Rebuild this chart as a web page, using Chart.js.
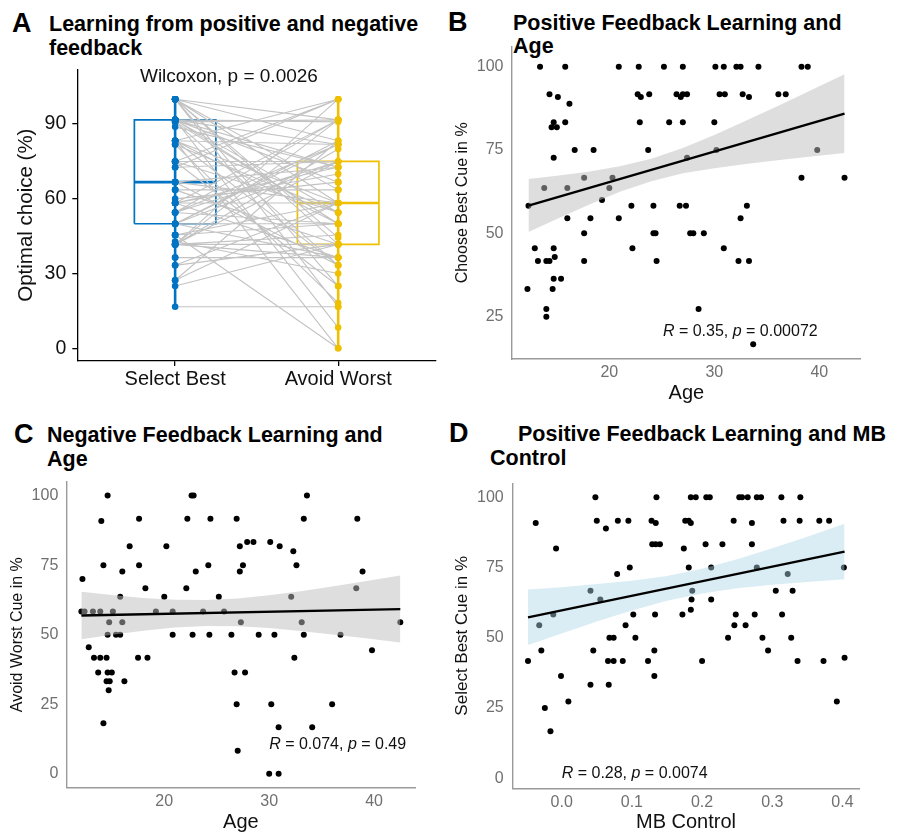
<!DOCTYPE html>
<html><head><meta charset="utf-8">
<script src="https://cdn.jsdelivr.net/npm/chart.js@4.4.1/dist/chart.umd.min.js"></script>
<style>
html,body{margin:0;padding:0;background:#fff;}
body{width:898px;height:834px;position:relative;overflow:hidden;font-family:'Liberation Sans',Arial,Helvetica,sans-serif;}
canvas{position:absolute;}
.lbl{position:absolute;font-weight:bold;color:#000;white-space:nowrap;}
.letter{font-size:27px;line-height:30px;}
.title{font-size:21.5px;line-height:24px;}
</style></head><body>
<div class="lbl letter" style="left:12px;top:8px">A</div>
<div class="lbl title" style="left:49px;top:12px">Learning from positive and negative<br>feedback</div>
<div class="lbl letter" style="left:448px;top:7px">B</div>
<div class="lbl title" style="left:513px;top:12px;line-height:23px">Positive Feedback Learning and<br>Age</div>
<div class="lbl letter" style="left:14px;top:419px">C</div>
<div class="lbl title" style="left:47px;top:423px">Negative Feedback Learning and<br>Age</div>
<div class="lbl letter" style="left:449px;top:418px">D</div>
<div class="lbl title" style="left:518px;top:422px">Positive Feedback Learning and MB</div>
<div class="lbl title" style="left:490px;top:446px">Control</div>

<canvas id="cA" width="450" height="370" style="left:0;top:40px"></canvas>
<canvas id="cB" width="448" height="390" style="left:450px;top:20px"></canvas>
<canvas id="cC" width="450" height="404" style="left:0;top:430px"></canvas>
<canvas id="cD" width="448" height="404" style="left:450px;top:430px"></canvas>

<script>
// ---------- DATA ----------
// Panel B: age vs. % choosing best cue
const ageB = [13.4,15.8,20.9,22.8,25.2,27.0,30.1,30.9,32.1,32.5,34.2,38.3,38.9,
  14.3,15.1,22.7,23.0,23.8,26.4,26.8,27.0,27.4,30.5,31.0,32.7,33.3,36.1,36.8,16.2,
  15.8,22.9,25.7,27.0,30.0,14.7,14.5,15.0,
  16.7,18.5,23.7,27.4,30.2,39.8,14.7,
  17.6,20.3,38.3,42.4,13.8,16.0,20.0,19.3,
  12.3,22.1,24.2,26.7,27.3,33.1,
  16.0,18.2,20.9,32.5,
  17.6,24.2,24.4,27.7,28.0,29.0,
  12.9,14.7,22.2,30.9,
  13.2,14.0,14.3,14.8,17.6,24.5,32.3,33.3,
  14.7,15.4,12.2,14.6,14.0,28.5,14.0,33.7];
const bestB = [100,100,100,100,100,100,100,100,100,100,100,100,100,
  91.7,90.9,91.7,90.9,91.7,91.7,90.9,91.7,91.7,91.7,91.7,91.7,90.9,91.7,91.7,88.9,
  83.3,83.3,83.3,83.3,83.3,83.3,81.8,81.8,
  75,75,75,72.7,75,75,72.7,
  66.7,66.7,66.7,66.7,63.6,63.6,63.6,60,
  58.3,58.3,58.3,58.3,58.3,58.3,
  54.5,54.5,54.5,54.5,
  50,50,50,50,50,50,
  45.5,45.5,45.5,45.5,
  41.7,41.7,41.7,42.9,41.7,41.7,41.7,41.7,
  36.4,36.4,33.3,33.3,27.3,27.3,25,16.7];

// Panel C: age vs. % avoiding worst cue
const ageC = [14.6,22.6,22.8,33.6,
  14.0,17.6,22.2,24.4,26.9,33.3,38.4,
  27.9,28.5,30.1,16.7,20.2,27.2,31.0,32.3,
  14.2,17.6,24.2,27.5,32.6,
  16.0,23.0,27.2,38.9,12.2,
  18.2,22.1,38.3,
  15.8,20.0,25.2,32.1,
  12.1,12.4,13.2,13.9,15.1,19.2,20.8,23.7,25.7,
  14.75,16.0,27.3,33.1,42.5,
  14.6,15.4,15.8,20.8,22.7,24.3,26.4,29.0,30.5,33.3,36.8,
  12.8,39.8,
  13.3,13.9,14.5,17.5,18.4,32.4,
  13.7,14.6,15.0,26.7,27.7,
  14.5,14.8,16.2,14.7,
  26.9,30.2,36.0,14.2,30.9,34.1,27.0,30.0,30.9];
const worstC = [100,100,100,100,
  90.9,91.7,91.7,91.7,91.7,91.7,91.7,
  83.3,83.3,83.3,81.8,81.8,81.8,81.8,80,
  75,75,75,75,75,
  72.7,72.7,72.7,72.7,70,
  66.7,66.7,66.7,
  63.6,63.6,63.6,63.6,
  58.3,58.3,58.3,58.3,58.3,58.3,58.3,58.3,58.3,
  54.5,54.5,54.5,54.5,54.5,
  50,50,50,50,50,50,50,50,50,50,50,
  45.5,44.4,
  41.7,41.7,41.7,41.7,41.7,41.7,
  36.4,36.4,36.4,36.4,36.4,
  33.3,33.3,33.3,30,
  25,25,25,18.2,16.7,16.7,8.3,0,0];

// Panel D: MB control vs. % selecting best cue
const mbD = [0.048,0.135,0.184,0.191,0.206,0.211,0.253,0.257,0.265,0.278,0.284,0.313,0.340,
  -0.037,0.050,0.080,0.095,0.128,0.134,0.176,0.181,0.184,0.245,0.271,0.316,0.339,0.367,0.381,0.063,
  0.129,0.134,0.140,0.205,0.229,0.271,-0.008,0.174,
  0.097,0.181,0.213,0.278,0.402,0.079,0.322,
  0.041,0.186,0.305,0.329,0.055,0.185,0.213,0.184,
  -0.012,0.102,0.133,0.172,0.248,0.275,0.314,
  -0.032,0.091,0.246,0.262,
  0.068,0.074,0.105,0.237,0.286,0.327,
  -0.029,0.045,0.132,0.294,
  -0.048,0.066,0.074,0.087,0.123,0.200,0.336,0.373,0.403,
  -0.001,0.132,0.041,0.067,0.0095,0.392,-0.024,-0.016];
const bestD = [100,100,100,100,100,100,100,100,100,100,100,100,100,
  90.9,91.7,91.7,91.7,91.7,90.9,91.7,91.7,90.9,91.7,90.9,91.7,91.7,91.7,91.7,88.9,
  83.3,83.3,83.3,83.3,83.3,83.3,81.8,81.8,
  75,75,75,75,75,72.7,72.7,
  66.7,66.7,66.7,66.7,63.6,63.6,63.6,60,
  58.3,58.3,58.3,58.3,58.3,58.3,58.3,
  54.5,54.5,54.5,54.5,
  50,50,50,50,50,50,
  45.5,45.5,45.5,45.5,
  41.7,41.7,41.7,41.7,41.7,41.7,41.7,41.7,42.9,
  36.4,36.4,33.3,33.3,27.3,27.3,25,16.7];

// Panel A box statistics [min, Q1, median, Q3, max]
const catPos = [1, 2];
const catLabels = ['Select Best', 'Avoid Worst'];
const boxSelectBest = [16.7, 50, 66.7, 91.7, 100];
const boxAvoidWorst = [0, 41.7, 58.3, 75, 100];

// Regression lines and confidence bands
const regBx = [12.3, 42.4], regBy = [58.3, 85.9];
const bandBx = [12.3,15,18,21,24,27,30,33,36,39,42.4];
const bandBlo = [50.4,54.3,58.5,62.5,65.6,68.0,69.5,70.8,71.9,73.0,74.1];
const bandBhi = [66.3,67.3,68.5,70.1,72.4,75.6,79.5,83.8,88.1,92.6,97.7];

const regCx = [12.1, 42.5], regCy = [56.9, 59.2];
const bandCx = [12.1,15,18,21,24,27,30,33,36,39,42.5];
const bandClo = [48.4,50.0,51.4,52.6,53.1,53.0,52.4,51.3,50.1,48.8,47.2];
const bandChi = [65.4,64.3,63.2,62.6,62.5,63.0,64.2,65.6,67.3,69.1,71.3];

const regDx = [-0.048, 0.403], regDy = [57.3, 80.7];
const bandDx = [-0.048,0,0.05,0.1,0.15,0.2,0.25,0.3,0.35,0.403];
const bandDlo = [47.4,51.5,55.8,59.7,63.2,65.8,67.6,68.9,69.9,70.8];
const bandDhi = [67.2,68.0,69.1,70.3,72.0,74.6,78.0,81.9,86.0,90.6];

// Tick values
const tickAy = [0, 30, 60, 90];
const tickBx = [20, 30, 40], tickBy = [25, 50, 75, 100];
const tickCx = [20, 30, 40], tickCy = [0, 25, 50, 75, 100];
const tickDx = [0, 0.1, 0.2, 0.3, 0.4], tickDy = [0, 25, 50, 75, 100];

// ---------- RENDERING ----------
const FAM = "'Liberation Sans', Arial, Helvetica, sans-serif";
Chart.defaults.font.family = FAM;
Chart.defaults.color = '#000';
Chart.defaults.animation = false;

function zip(xs, ys) { return xs.map((x, i) => ({x: x, y: ys[i]})); }
function setTicks(arr) { return s => { s.ticks = arr.map(v => ({value: v})); }; }

function annot(items) {
  return {
    id: 'annot',
    afterDatasetsDraw(chart) {
      const ctx = chart.ctx, xs = chart.scales.x, ys = chart.scales.y;
      items.forEach(it => {
        ctx.save();
        ctx.fillStyle = it.color || '#000';
        ctx.textBaseline = 'middle';
        ctx.textAlign = 'left';
        const fonts = it.parts.map(p => (p.italic ? 'italic ' : '') + it.size + 'px ' + FAM);
        const widths = it.parts.map((p, i) => { ctx.font = fonts[i]; return ctx.measureText(p.text).width; });
        const total = widths.reduce((a, b) => a + b, 0);
        let x = xs.getPixelForValue(it.x);
        const y = ys.getPixelForValue(it.y);
        if (it.align === 'center') x -= total / 2;
        it.parts.forEach((p, i) => { ctx.font = fonts[i]; ctx.fillText(p.text, x, y); x += widths[i]; });
        ctx.restore();
      });
    }
  };
}

function rText(r, p) {
  return [{text: 'R', italic: true}, {text: ' = ' + r + ', '}, {text: 'p', italic: true}, {text: ' = ' + p}];
}

// ----- Panel A -----
(function () {
  const BLUE = '#0073C2', YEL = '#EFC000';
  const iB = ageB.map((a, i) => i).sort((i, j) => ageB[i] - ageB[j]);
  const iC = ageC.map((a, i) => i).sort((i, j) => ageC[i] - ageC[j]);
  const pairs = [];
  const n = Math.min(iB.length, iC.length);
  for (let k = 0; k < n; k++) {
    pairs.push({x: catPos[0], y: bestB[iB[k]]}, {x: catPos[1], y: worstC[iC[k]]}, {x: 1.5, y: null});
  }
  const hw = 0.25;
  function boxRect(c, s) {
    return [{x: c - hw, y: s[1]}, {x: c + hw, y: s[1]}, {x: c + hw, y: s[3]}, {x: c - hw, y: s[3]}, {x: c - hw, y: s[1]}];
  }
  function med(c, s) { return [{x: c - hw, y: s[2]}, {x: c + hw, y: s[2]}]; }
  function whisk(c, s) { return [{x: c, y: s[0]}, {x: c, y: s[4]}]; }
  const lineDs = (data, color, w, order) => ({data, borderColor: color, borderWidth: w, pointRadius: 0, showLine: true, fill: false, order});
  new Chart(document.getElementById('cA'), {
    type: 'line',
    data: {datasets: [
      lineDs(boxRect(catPos[0], boxSelectBest), BLUE, 1.7, 10),
      lineDs(med(catPos[0], boxSelectBest), BLUE, 2.6, 10),
      lineDs(boxRect(catPos[1], boxAvoidWorst), YEL, 1.7, 10),
      lineDs(med(catPos[1], boxAvoidWorst), YEL, 2.6, 10),
      {data: pairs, borderColor: '#c3c3c3', borderWidth: 1.1, pointRadius: 0, showLine: true, spanGaps: false, fill: false, order: 8},
      lineDs(whisk(catPos[0], boxSelectBest), BLUE, 2.6, 6),
      lineDs(whisk(catPos[1], boxAvoidWorst), YEL, 2.6, 6),
      {data: bestB.map(v => ({x: catPos[0], y: v})), showLine: false, pointRadius: 3.3, pointBackgroundColor: BLUE, pointBorderWidth: 0, order: 4},
      {data: worstC.map(v => ({x: catPos[1], y: v})), showLine: false, pointRadius: 3.3, pointBackgroundColor: YEL, pointBorderWidth: 0, order: 4}
    ]},
    options: {
      responsive: false, animation: false, events: [],
      layout: {padding: {top: 29.3, right: 14, bottom: 0, left: 0}},
      plugins: {legend: {display: false}, tooltip: {enabled: false}},
      scales: {
        x: {type: 'linear', min: 0.4, max: 2.6,
          afterBuildTicks: setTicks(catPos),
          afterFit: s => { s.height = 49; },
          grid: {display: true, drawOnChartArea: false, drawTicks: true, tickLength: 5, color: '#000', lineWidth: 1.3},
          border: {display: true, color: '#000', width: 1.3},
          ticks: {font: {size: 20}, color: '#111', padding: 1, maxRotation: 0, autoSkip: false,
            callback: (v, i) => catLabels[i]}},
        y: {type: 'linear', min: -5.1, max: 112,
          afterBuildTicks: setTicks(tickAy),
          afterFit: s => { s.width = 77.3; },
          grid: {display: true, drawOnChartArea: false, drawTicks: true, tickLength: 5, color: '#000', lineWidth: 1.3},
          border: {display: true, color: '#000', width: 1.3},
          ticks: {font: {size: 19.5}, color: '#111', padding: 6, autoSkip: false},
          title: {display: true, text: 'Optimal choice (%)', font: {size: 20.5}, color: '#111', padding: {top: 14.5, bottom: 0}}}
      }
    },
    plugins: [annot([{x: 1.33, y: 109.1, size: 19, align: 'center', color: '#111', parts: [{text: 'Wilcoxon, p = 0.0026'}]}])]
  });
})();

// ----- Scatter panels -----
function scatterPanel(id, o) {
  new Chart(document.getElementById(id), {
    type: 'line',
    data: {datasets: [
      {data: zip(o.px, o.py), showLine: false, pointRadius: 3.0, pointBackgroundColor: '#000', pointBorderWidth: 0, order: 4},
      {data: zip(o.bx, o.blo), borderColor: 'rgba(0,0,0,0)', borderWidth: 0.01, pointRadius: 0, showLine: true, fill: false, order: 3},
      {data: zip(o.bx, o.bhi), borderColor: 'rgba(0,0,0,0)', borderWidth: 0.01, pointRadius: 0, showLine: true, fill: 1, backgroundColor: o.band, order: 2},
      {data: zip(o.rx, o.ry), borderColor: '#000', borderWidth: 2.3, pointRadius: 0, showLine: true, fill: false, order: 1}
    ]},
    options: {
      responsive: false, animation: false, events: [],
      layout: {padding: o.pad},
      plugins: {legend: {display: false}, tooltip: {enabled: false}, filler: {propagate: false}},
      scales: {
        x: {type: 'linear', min: o.xmin, max: o.xmax,
          afterBuildTicks: setTicks(o.tx),
          afterFit: s => { s.height = o.xh; },
          grid: {display: false, drawTicks: false},
          border: {display: true, color: '#9a9a9a', width: 1.4},
          ticks: {font: {size: 16}, color: '#707070', padding: o.xtp, maxRotation: 0, autoSkip: false,
            callback: o.xfmt || (v => String(v))},
          title: {display: true, text: o.xtitle, font: {size: 20}, color: '#111', padding: {top: 0, bottom: o.xtb}}},
        y: {type: 'linear', min: o.ymin, max: o.ymax,
          afterBuildTicks: setTicks(o.ty),
          afterFit: s => { s.width = o.yw; },
          grid: {display: false, drawTicks: false},
          border: {display: true, color: '#9a9a9a', width: 1.4},
          ticks: {font: {size: 16}, color: '#707070', padding: o.ytp, autoSkip: false},
          title: {display: true, text: o.ytitle, font: {size: o.ytsize}, color: '#111', padding: {top: o.ytt, bottom: 0}}}
      }
    },
    plugins: [annot([{x: o.ax, y: o.ay, size: 16, align: 'left', color: '#111', parts: o.atext}])]
  });
}

const GRAYBAND = 'rgba(190,190,190,0.5)';
scatterPanel('cB', {px: ageB, py: bestB, bx: bandBx, blo: bandBlo, bhi: bandBhi, rx: regBx, ry: regBy, band: GRAYBAND,
  pad: {top: 26.7, right: 37.3, bottom: 0, left: 0}, xmin: 10.73, xmax: 43.94, ymin: 12.3, ymax: 106,
  tx: tickBx, ty: tickBy, xh: 51, yw: 62, xtp: 4.4, ytp: 8.5, xtb: 5, ytt: 3.1, ytsize: 16,
  xtitle: 'Age', ytitle: 'Choose Best Cue in %', ax: 25.1, ay: 20.4, atext: rText('0.35', '0.00072')});

scatterPanel('cC', {px: ageC, py: worstC, bx: bandCx, blo: bandClo, bhi: bandChi, rx: regCx, ry: regCy, band: GRAYBAND,
  pad: {top: 51.7, right: 35, bottom: 0, left: 0}, xmin: 10.7, xmax: 43.9, ymin: -5, ymax: 105,
  tx: tickCx, ty: tickCy, xh: 46.3, yw: 66.7, xtp: 4.4, ytp: 8.4, xtb: 0, ytt: 7.7, ytsize: 16,
  xtitle: 'Age', ytitle: 'Avoid Worst Cue in %', ax: 30.0, ay: 10.4, atext: rText('0.074', '0.49')});

scatterPanel('cD', {px: mbD, py: bestD, bx: bandDx, blo: bandDlo, bhi: bandDhi, rx: regDx, ry: regDy, band: 'rgba(173,216,230,0.45)',
  pad: {top: 53.3, right: 38.7, bottom: 0, left: 0}, xmin: -0.0698, xmax: 0.424, ymin: -3.6, ymax: 105,
  tx: tickDx, ty: tickDy, xh: 45.7, yw: 62.7, xtp: 5, ytp: 9, xtb: 0, ytt: 2.5, ytsize: 17,
  xfmt: v => v.toFixed(1),
  xtitle: 'MB Control', ytitle: 'Select Best Cue in %', ax: 0.0, ay: 1.8, atext: rText('0.28', '0.0074')});
</script>
</body></html>
